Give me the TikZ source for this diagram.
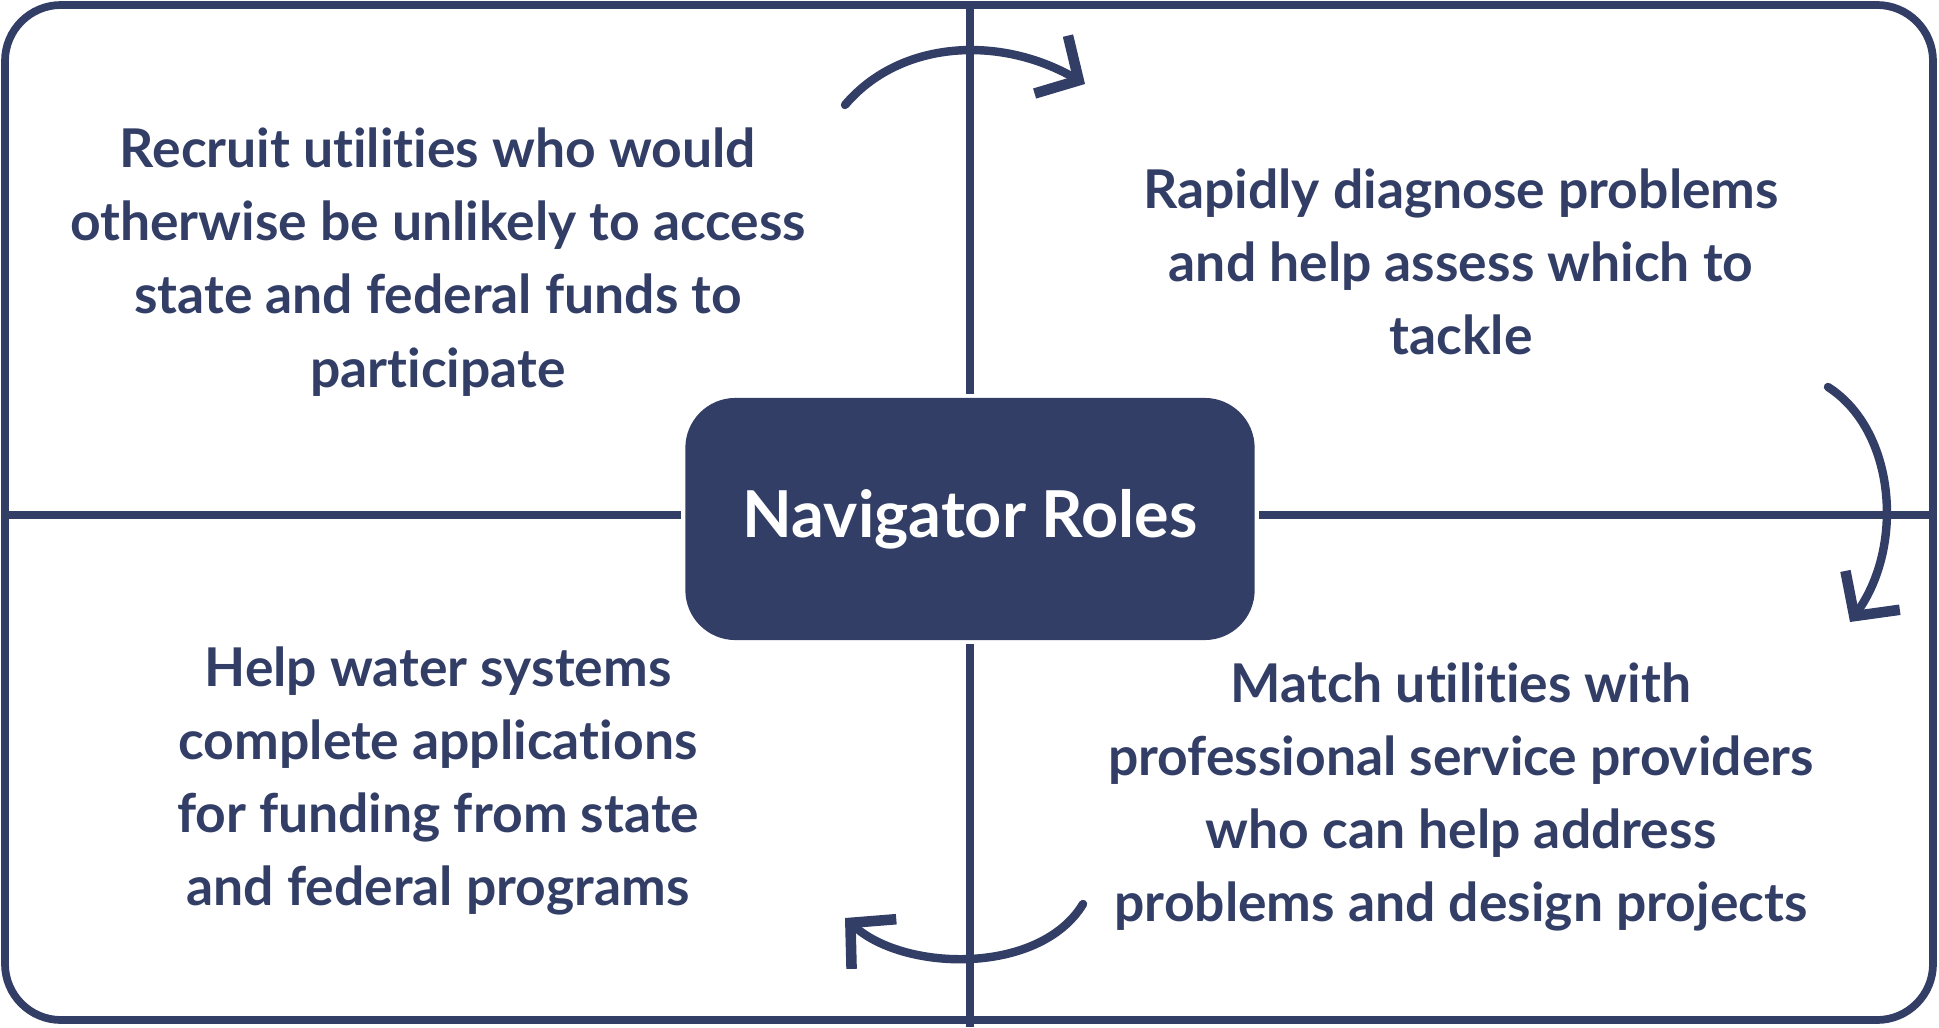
\documentclass[tikz,border=0pt]{standalone}
\usepackage{fontspec}
\setmainfont{Lato}[Ligatures=NoCommon]
\usepackage{tikz}
\usetikzlibrary{positioning,arrows.meta}
\definecolor{navy}{RGB}{50,62,102}

\begin{document}
\begin{tikzpicture}[x=0.01cm, y=-0.01cm, color=navy, line width=2.2pt]
\tikzstyle{role}=[text=navy, align=center, font=\fontsize{15.2}{20.8}\selectfont\bfseries]
\tikzstyle{hub}=[fill=navy, text=white, rounded corners=0.5cm, minimum width=5.69cm, minimum height=2.42cm, font=\fontsize{18.4}{22}\selectfont\bfseries]
\tikzstyle{turn}=[line width=2.4pt, line cap=round, line join=round, -{Straight Barb[length=9pt, width=19pt, line width=3pt]}]

\useasboundingbox (0,0) rectangle (1939,1027);
\draw[rounded corners=0.56cm] (5,5) rectangle (1933,1020);

\node[hub] (roles) at (970,519) {Navigator Roles};

\coordinate (n) at (970,5);
\coordinate (s) at (970,1027);
\coordinate (w) at (5,515);
\coordinate (e) at (1933,515);
\draw (n) -- (n |- roles.north);
\draw (s) -- (s |- roles.south);
\draw (w) -- (w -| roles.west);
\draw (e) -- (e -| roles.east);

\node[role] (recruit) at (438,262) {Recruit utilities who would\\otherwise be unlikely to access\\state and federal funds to\\participate};
\node[role] (diagnose) at (1461,262) {Rapidly diagnose problems\\and help assess which to\\tackle};
\node[role] (match) at (1461,797) {Match utilities with\\professional service providers\\who can help address\\problems and design projects};
\node[role] (apply) at (438,781) {Help water systems\\complete applications\\for funding from state\\and federal programs};

% turning arrows
\coordinate (t1) at (845,105);
\coordinate (t2) at (1085,84);
\coordinate (r1) at (1828,387);
\coordinate (r2) at (1850,622);
\coordinate (b1) at (1083,904);
\coordinate (b2) at (845,918);
\draw[turn] (t1) .. controls (900,40) and (1000,35) .. (t2);
\draw[turn] (r1) .. controls (1895,430) and (1905,545) .. (r2);
\draw[turn] (b1) .. controls (1040,975) and (905,972) .. (b2);
\end{tikzpicture}
\end{document}
